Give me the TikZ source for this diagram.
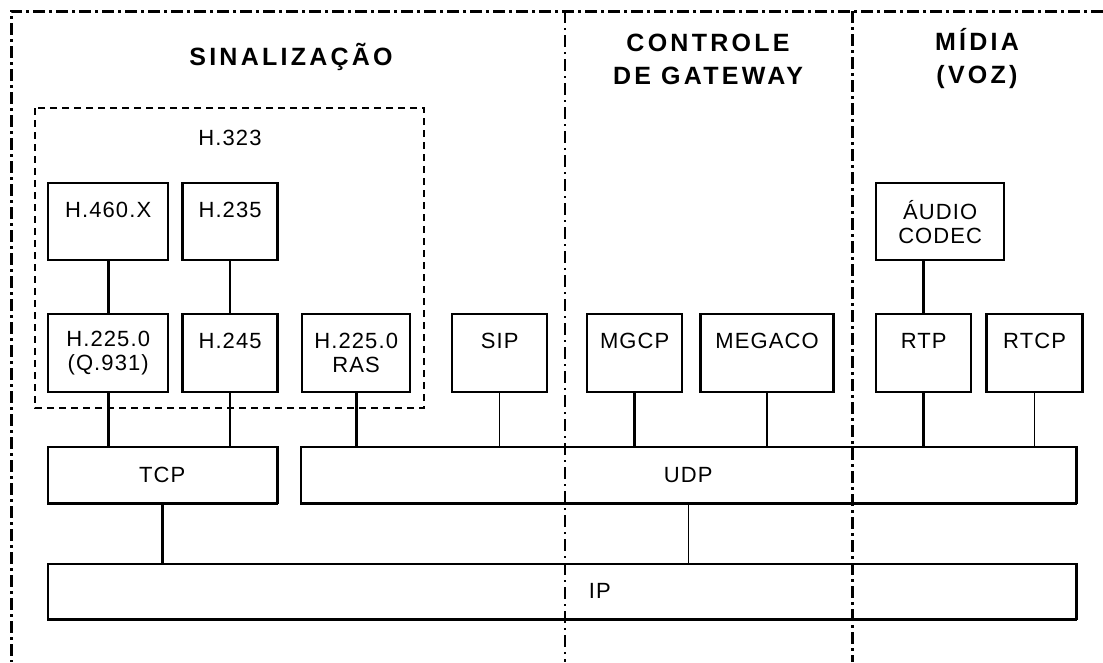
\documentclass[tikz,border=0pt]{standalone}
\usepackage{fontspec}
\setmainfont{Liberation Sans}
\newfontfamily\boxfont[LetterSpace=5]{Liberation Sans}
\newfontfamily\titlefont[LetterSpace=13]{Liberation Sans}
\usetikzlibrary{positioning}

\begin{document}
\begin{tikzpicture}[
  x=1pt, y=-1pt,
  every node/.style={inner sep=0pt},
  proto/.style={draw, line width=2.4pt, anchor=north west, minimum width=95pt, minimum height=78pt, align=center, font=\boxfont\fontsize{22}{24}\selectfont},
  bar/.style={draw, line width=1.5pt, anchor=north west, minimum height=56pt, font=\boxfont\fontsize{22}{24}\selectfont,
    append after command={(\tikzlastnode.south west) edge[line width=3.4pt] (\tikzlastnode.south east)
                          (\tikzlastnode.south east) edge[line width=3.4pt] (\tikzlastnode.north east)}},
  title/.style={align=center, font=\titlefont\bfseries\fontsize{25}{33}\selectfont},
  link/.style={line width=2.6pt},
  thinlink/.style={line width=1.3pt},
  frame/.style={line width=3pt, dash pattern=on 12pt off 4pt on 3pt off 4pt},
  thindiv/.style={line width=1.5pt, dash pattern=on 12pt off 5pt on 2pt off 5pt},
  groupbox/.style={line width=1.8pt, dash pattern=on 7pt off 5pt}
]
\useasboundingbox (0,0) rectangle (1103,662);

% frame and columns
\coordinate (tl) at (11,11);
\coordinate (tr) at (1103,11);
\coordinate (bl) at (11,662);
\draw[frame] (tr) -- (tl) -- (bl);
\draw[thindiv] (565,11) -- (565,662);
\draw[frame] (852,11) -- (852,662);

\node[title] (sinal) at (291,57) {SINALIZAÇÃO};
\node[title] (gw) at (708,59) {CONTROLE\\DE GATEWAY};
\node[title] (midia) at (977,59) {MÍDIA\\(VOZ)};

% H.323 group
\draw[groupbox] (35,108) rectangle (424,408);
\node[font=\boxfont\fontsize{22}{24}\selectfont] (h323) at (230,138) {H.323};

\node[proto, minimum width=120pt, minimum height=77pt] (h460) at (47,182) {H.460.X\\~};
\node[proto, minimum height=77pt, right=12pt of h460.north east, anchor=north west] (h235) {H.235\\~};
\node[proto, minimum width=120pt] (h2250) at (47,313) {H.225.0\\(Q.931)};
\node[proto, right=12pt of h2250.north east, anchor=north west] (h245) {H.245\\~};
\node[proto, minimum width=108pt] (ras) at (301,313) {H.225.0\\RAS};
\node[proto] (sip) at (451,313) {SIP\\~};
\node[proto] (mgcp) at (586,313) {MGCP\\~};
\node[proto, minimum width=133pt, right=16pt of mgcp.north east, anchor=north west] (megaco) {MEGACO\\~};
\node[proto, minimum width=128pt, minimum height=77pt] (codec) at (875,182) {ÁUDIO\\CODEC};
\node[proto] (rtp) at (875,313) {RTP\\~};
\node[proto, minimum width=96pt, right=13pt of rtp.north east, anchor=north west] (rtcp) {RTCP\\~};

\node[bar, minimum width=229pt] (tcp) at (47,446) {TCP};
\node[bar, minimum width=775pt] (udp) at (300,446) {UDP};
\node[bar, minimum width=1028pt, minimum height=55pt] (ip) at (47,563) {\hspace*{76pt}IP};

\draw[link] (h460) -- (h2250);
\draw[link] (h235) -- (h245);
\draw[link] (rtp.north) -- (rtp.north |- codec.south);
\draw[link] (h2250.south) -- (h2250.south |- tcp.north);
\draw[link] (h245.south) -- (h245.south |- tcp.north);
\draw[link] (ras.south) -- (ras.south |- udp.north);
\draw[thinlink] (sip.south) -- (sip.south |- udp.north);
\draw[link] (mgcp.south) -- (mgcp.south |- udp.north);
\draw[link] (megaco.south) -- (megaco.south |- udp.north);
\draw[link] (rtp.south) -- (rtp.south |- udp.north);
\draw[thinlink] (rtcp.south) -- (rtcp.south |- udp.north);
\draw[link] (tcp.south) -- (tcp.south |- ip.north);
\draw[thinlink] (udp.south) -- (udp.south |- ip.north);
\end{tikzpicture}
\end{document}
